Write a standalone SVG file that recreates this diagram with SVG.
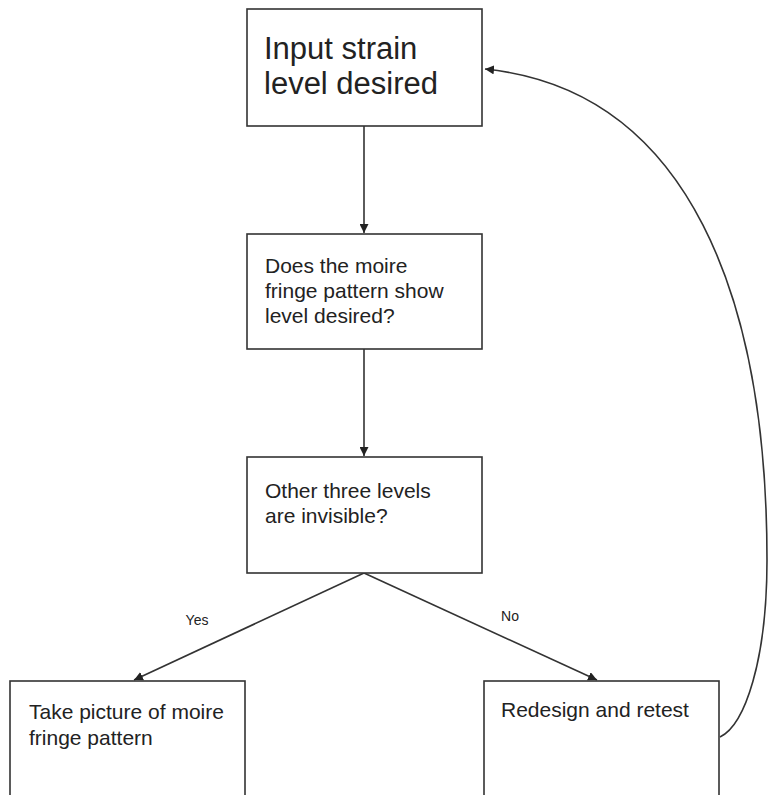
<svg xmlns="http://www.w3.org/2000/svg" width="769" height="795" viewBox="0 0 769 795">
<style>
.box{fill:#fff;stroke:#333;stroke-width:1.6}
.t{font-family:"Liberation Sans",Arial,sans-serif;fill:#222}
.big{font-size:31px}
.mid{font-size:21px}
.lbl{font-size:14px}
.edge{fill:none;stroke:#333;stroke-width:1.6}
</style>
<defs>
<marker id="ah" viewBox="0 0 10 10" refX="10" refY="5" markerWidth="9" markerHeight="9" markerUnits="userSpaceOnUse" orient="auto">
<path d="M0,0 L10,5 L0,10 z" fill="#222"/>
</marker>
</defs>
<rect width="769" height="795" fill="#fff"/>
<g id="connectors">
<line class="edge" x1="364" y1="126" x2="364" y2="233" marker-end="url(#ah)"/>
<line class="edge" x1="364" y1="349" x2="364" y2="456" marker-end="url(#ah)"/>
<line class="edge" x1="364" y1="573" x2="134" y2="680" marker-end="url(#ah)"/>
<line class="edge" x1="364" y1="573" x2="597" y2="680" marker-end="url(#ah)"/>
<path class="edge" d="M720,737 C745,725 767,660 767,560 C767,300 690,90 485,69" marker-end="url(#ah)"/>
<text class="t lbl" x="197" y="625" text-anchor="middle">Yes</text>
<text class="t lbl" x="510" y="621" text-anchor="middle">No</text>
</g>
<g id="n1">
<rect class="box" x="247" y="9" width="235" height="117"/>
<text class="t big" x="264" y="59">Input strain</text>
<text class="t big" x="264" y="94">level desired</text>
</g>
<g id="n2">
<rect class="box" x="247" y="234" width="235" height="115"/>
<text class="t mid" x="265" y="273">Does the moire</text>
<text class="t mid" x="265" y="298">fringe pattern show</text>
<text class="t mid" x="265" y="323">level desired?</text>
</g>
<g id="n3">
<rect class="box" x="247" y="457" width="235" height="116"/>
<text class="t mid" x="265" y="498">Other three levels</text>
<text class="t mid" x="265" y="523">are invisible?</text>
</g>
<g id="n4">
<rect class="box" x="10" y="681" width="235" height="130"/>
<text class="t mid" x="29" y="719">Take picture of moire</text>
<text class="t mid" x="29" y="745">fringe pattern</text>
</g>
<g id="n5">
<rect class="box" x="484" y="681" width="235" height="130"/>
<text class="t mid" x="501" y="717">Redesign and retest</text>
</g>
</svg>
